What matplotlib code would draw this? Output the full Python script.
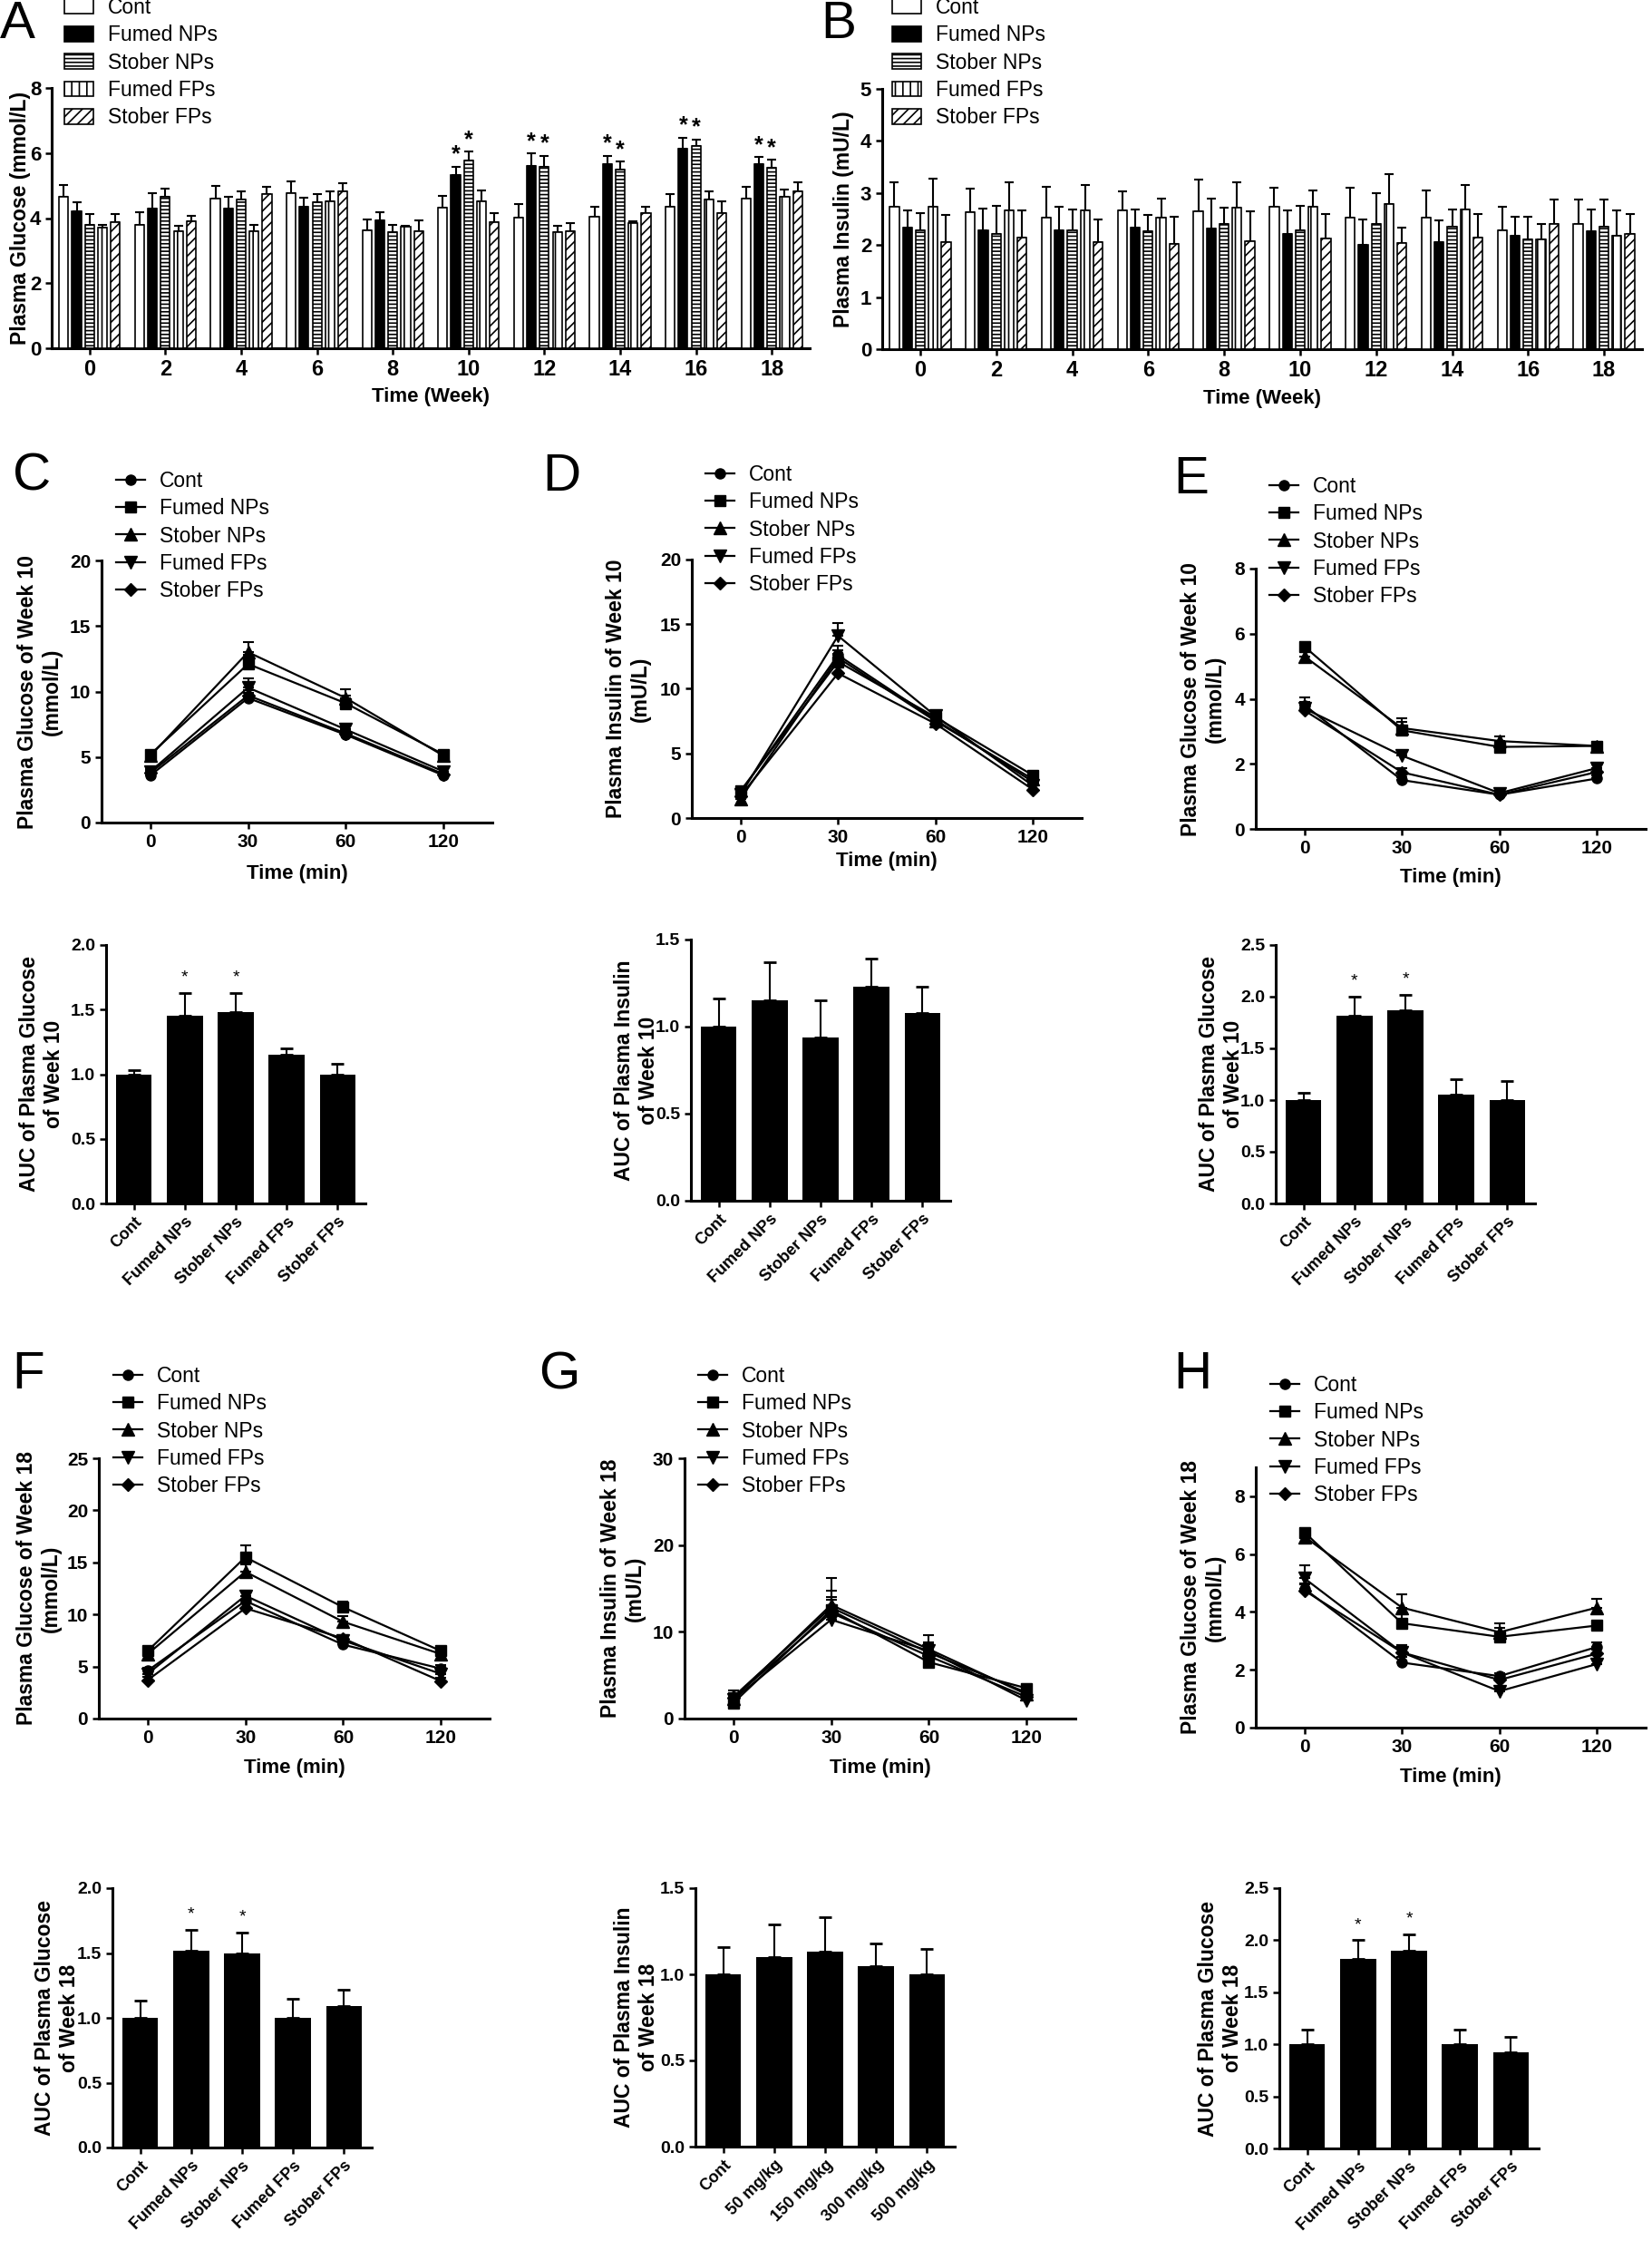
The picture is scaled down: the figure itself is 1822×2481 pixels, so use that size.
import numpy as np
import matplotlib.pyplot as plt

plt.rcParams['font.family'] = ['Liberation Sans', 'DejaVu Sans']
plt.rcParams['hatch.linewidth'] = 1.2
plt.rcParams['legend.numpoints'] = 1

W, H = 1822, 2481

groups = ['Cont', 'Fumed NPs', 'Stober NPs', 'Fumed FPs', 'Stober FPs']
weeks = [0, 2, 4, 6, 8, 10, 12, 14, 16, 18]
times = ['0', '30', '60', '120']
doses = ['Cont', '50 mg/kg', '150 mg/kg', '300 mg/kg', '500 mg/kg']

# A: plasma glucose by week (rows = groups)
a_mean = [[4.65, 3.78, 4.60, 4.77, 3.63, 4.33, 4.02, 4.03, 4.35, 4.60],
          [4.20, 4.30, 4.30, 4.35, 3.93, 5.33, 5.60, 5.65, 6.13, 5.65],
          [3.80, 4.66, 4.58, 4.50, 3.57, 5.77, 5.58, 5.50, 6.22, 5.55],
          [3.70, 3.60, 3.60, 4.52, 3.73, 4.52, 3.57, 3.85, 4.57, 4.65],
          [3.88, 3.90, 4.73, 4.83, 3.60, 3.88, 3.60, 4.15, 4.15, 4.83]]
a_sem = [[0.38, 0.40, 0.40, 0.37, 0.32, 0.35, 0.42, 0.32, 0.38, 0.36],
         [0.28, 0.48, 0.35, 0.27, 0.26, 0.25, 0.38, 0.27, 0.35, 0.22],
         [0.33, 0.25, 0.24, 0.23, 0.22, 0.27, 0.33, 0.23, 0.20, 0.24],
         [0.08, 0.15, 0.20, 0.30, 0.04, 0.34, 0.20, 0.04, 0.24, 0.23],
         [0.24, 0.18, 0.22, 0.24, 0.32, 0.28, 0.25, 0.20, 0.37, 0.28]]
a_stars = [(5, 1), (5, 2), (6, 1), (6, 2), (7, 1), (7, 2), (8, 1), (8, 2), (9, 1), (9, 2)]

# B: plasma insulin by week
b_mean = [[2.73, 2.63, 2.52, 2.66, 2.65, 2.74, 2.53, 2.53, 2.28, 2.40],
          [2.34, 2.28, 2.28, 2.33, 2.31, 2.22, 2.01, 2.05, 2.17, 2.26],
          [2.28, 2.22, 2.28, 2.26, 2.40, 2.28, 2.40, 2.35, 2.10, 2.35],
          [2.74, 2.66, 2.67, 2.52, 2.72, 2.73, 2.78, 2.69, 2.10, 2.17],
          [2.05, 2.15, 2.06, 2.02, 2.08, 2.13, 2.03, 2.15, 2.40, 2.21]]
b_sem = [[0.47, 0.46, 0.59, 0.38, 0.60, 0.36, 0.57, 0.52, 0.46, 0.48],
         [0.33, 0.42, 0.45, 0.36, 0.59, 0.45, 0.48, 0.42, 0.38, 0.43],
         [0.34, 0.54, 0.41, 0.31, 0.32, 0.48, 0.59, 0.34, 0.44, 0.53],
         [0.53, 0.54, 0.49, 0.38, 0.48, 0.32, 0.59, 0.46, 0.30, 0.49],
         [0.52, 0.51, 0.44, 0.52, 0.57, 0.46, 0.31, 0.45, 0.48, 0.39]]

# C-H: tolerance curves (rows = groups, cols = 0/30/60/120 min)
c_mean = [[3.6, 9.5, 6.7, 3.6], [5.2, 12.1, 9.1, 5.2], [5.1, 13.0, 9.5, 5.1],
          [3.9, 10.3, 7.1, 3.9], [3.8, 9.7, 6.8, 3.7]]
c_sem = [[0.2, 0.4, 0.3, 0.2], [0.3, 0.7, 0.6, 0.3], [0.3, 0.8, 0.7, 0.3],
         [0.2, 0.7, 0.3, 0.2], [0.2, 0.4, 0.3, 0.2]]
d_mean = [[2.0, 12.6, 7.6, 2.8], [2.1, 12.1, 7.8, 3.3], [1.5, 12.4, 7.5, 3.0],
          [1.8, 14.1, 7.9, 2.5], [1.7, 11.2, 7.3, 2.2]]
d_sem = [[0.3, 0.7, 0.4, 0.3], [0.3, 0.6, 0.4, 0.3], [0.3, 0.6, 0.4, 0.3],
         [0.3, 1.0, 0.4, 0.3], [0.3, 0.6, 0.4, 0.3]]
e_mean = [[3.8, 1.5, 1.05, 1.55], [5.6, 3.03, 2.52, 2.55], [5.3, 3.1, 2.7, 2.55],
          [3.7, 2.25, 1.1, 1.87], [3.64, 1.74, 1.05, 1.75]]
e_sem = [[0.25, 0.1, 0.08, 0.1], [0.15, 0.25, 0.15, 0.1], [0.15, 0.3, 0.15, 0.1],
         [0.2, 0.15, 0.08, 0.12], [0.2, 0.12, 0.08, 0.1]]
f_mean = [[4.6, 11.3, 7.1, 4.8], [6.5, 15.5, 10.7, 6.5], [6.2, 14.1, 9.3, 6.2],
          [4.3, 11.8, 7.5, 4.3], [3.7, 10.6, 7.7, 3.6]]
f_sem = [[0.3, 0.5, 0.3, 0.3], [0.4, 1.1, 0.5, 0.4], [0.4, 0.7, 0.5, 0.4],
         [0.3, 0.5, 0.3, 0.3], [0.3, 0.5, 0.3, 0.3]]
g_mean = [[2.5, 12.8, 7.6, 3.0], [1.8, 12.5, 6.5, 3.5], [2.3, 13.1, 8.0, 2.8],
          [2.2, 11.4, 7.8, 2.1], [2.4, 12.2, 7.2, 2.5]]
g_sem = [[0.7, 1.9, 1.0, 0.6], [0.5, 1.5, 1.0, 0.5], [0.6, 3.1, 1.6, 0.6],
         [0.5, 1.5, 1.0, 0.5], [0.5, 1.5, 1.0, 0.5]]
h_mean = [[4.8, 2.25, 1.78, 2.79], [6.75, 3.61, 3.14, 3.53], [6.6, 4.15, 3.3, 4.15],
          [5.16, 2.6, 1.26, 2.2], [4.74, 2.6, 1.65, 2.56]]
h_sem = [[0.2, 0.2, 0.1, 0.15], [0.15, 0.3, 0.3, 0.15], [0.2, 0.45, 0.3, 0.3],
         [0.45, 0.25, 0.1, 0.15], [0.2, 0.25, 0.1, 0.15]]

# AUC bars
auc_c = [1.00, 1.45, 1.48, 1.15, 1.00]
auc_c_sem = [0.03, 0.18, 0.15, 0.05, 0.08]
auc_d = [1.00, 1.15, 0.94, 1.23, 1.08]
auc_d_sem = [0.16, 0.22, 0.21, 0.16, 0.15]
auc_e = [1.00, 1.82, 1.87, 1.05, 1.00]
auc_e_sem = [0.07, 0.18, 0.15, 0.15, 0.18]
auc_f = [1.00, 1.52, 1.50, 1.00, 1.09]
auc_f_sem = [0.13, 0.16, 0.16, 0.15, 0.13]
auc_g = [1.00, 1.10, 1.13, 1.05, 1.00]
auc_g_sem = [0.16, 0.19, 0.20, 0.13, 0.15]
auc_h = [1.00, 1.82, 1.90, 1.00, 0.92]
auc_h_sem = [0.14, 0.18, 0.16, 0.14, 0.15]
auc_stars = [1, 2]

fig = plt.figure(figsize=(W / 100, H / 100), dpi=100)


def px_axes(box):
    l, t, r, b = box
    return fig.add_axes([l / W, 1 - b / H, (r - l) / W, (b - t) / H])


def style(ax):
    for s in ('top', 'right'):
        ax.spines[s].set_visible(False)
    for s in ('left', 'bottom'):
        ax.spines[s].set_linewidth(2.2)
    ax.tick_params(direction='out', length=5, width=1.8)


def labels(ax, box, xlabel, ylabel, xl_y, yl_x, ysize=16.5):
    l, t, r, b = box
    if xlabel:
        ax.set_xlabel(xlabel, fontsize=16, fontweight='bold', va='center')
        ax.xaxis.set_label_coords(0.5, (b - xl_y) / (b - t))
    ax.set_ylabel(ylabel, fontsize=ysize, fontweight='bold', va='center', ha='center')
    ax.yaxis.set_label_coords((yl_x - l) / (r - l), 0.5)


def legend_at(ax, handles, x, y):
    ax.legend(handles, groups, loc='upper left', bbox_to_anchor=(x / W, 1 - y / H),
              bbox_transform=fig.transFigure, frameon=False, fontsize=16.5,
              borderpad=0, borderaxespad=0, handlelength=1.4, handleheight=0.75,
              handletextpad=0.7, labelspacing=0.32)


def letter(s, x, y):
    fig.text(x / W, 1 - y / H, s, fontsize=42, va='top', ha='left')


bar_styles = [dict(facecolor='white'), dict(facecolor='black'),
              dict(facecolor='white', hatch='----'), dict(facecolor='white', hatch='||'),
              dict(facecolor='white', hatch='///')]


def week_bars(box, means, sems, ymax, yticks, ylabel, stars, leg_xy, yl_x, xl_y):
    ax = px_axes(box)
    style(ax)
    x = np.arange(len(weeks))
    handles = []
    for i, (m, s) in enumerate(zip(means, sems)):
        xi = x + (i - 2) * 0.17
        bc = ax.bar(xi, m, 0.122, edgecolor='black', linewidth=1.2, zorder=3, **bar_styles[i])
        ax.errorbar(xi, m, yerr=[np.zeros(len(m)), s], fmt='none', ecolor='black',
                    elinewidth=1.5, capsize=3.5, capthick=1.5, zorder=2)
        handles.append(bc)
    for w, g in stars:
        top = means[g][w] + sems[g][w]
        ax.annotate('*', (x[w] + (g - 2) * 0.17, top), xytext=(0, 1), textcoords='offset points',
                    ha='center', va='bottom', fontsize=18, fontweight='bold')
    ax.set_xlim(-0.5, 9.5)
    ax.set_ylim(0, ymax)
    ax.set_xticks(x, [str(w) for w in weeks], fontsize=17, fontweight='bold')
    ax.set_yticks(yticks, [str(v) for v in yticks], fontsize=16, fontweight='bold')
    labels(ax, box, 'Time (Week)', ylabel, xl_y, yl_x)
    legend_at(ax, handles, *leg_xy)


markers = ['o', 's', '^', 'v', 'D']
msizes = [8, 9, 9.5, 9.5, 7]


def curve(box, means, sems, ymax, yticks, ylabel, leg_xy, yl_x, xl_y):
    ax = px_axes(box)
    style(ax)
    x = np.arange(len(times))
    handles = []
    for i, (m, s) in enumerate(zip(means, sems)):
        ax.errorbar(x, m, yerr=[np.zeros(len(m)), s], fmt='none', ecolor='black',
                    elinewidth=1.5, capsize=4.5, capthick=1.5, zorder=2)
        ln, = ax.plot(x, m, color='black', lw=1.6, marker=markers[i], ms=msizes[i],
                      mfc='black', mec='black', zorder=3, clip_on=False)
        handles.append(ln)
    ax.set_xlim(-0.5, 3.5)
    ax.set_ylim(0, ymax)
    ax.set_xticks(x, times, fontsize=15, fontweight='bold')
    ax.set_yticks(yticks, [str(v) for v in yticks], fontsize=15, fontweight='bold')
    labels(ax, box, 'Time (min)', ylabel, xl_y, yl_x)
    legend_at(ax, handles, *leg_xy)


def auc(box, vals, sems, ymax, ylabel, cats, yl_x, stars):
    ax = px_axes(box)
    style(ax)
    x = np.arange(len(vals))
    ax.bar(x, vals, 0.7, color='black', zorder=3)
    ax.errorbar(x, vals, yerr=[np.zeros(len(vals)), sems], fmt='none', ecolor='black',
                elinewidth=1.5, capsize=5, capthick=2, zorder=2)
    for g in stars:
        ax.annotate('*', (x[g], vals[g] + sems[g]), xytext=(0, 6), textcoords='offset points',
                    ha='center', va='bottom', fontsize=14)
    ax.set_xlim(-0.55, 4.55)
    ax.set_ylim(0, ymax)
    yt = np.arange(0, ymax + 0.01, 0.5)
    ax.set_yticks(yt, ['%.1f' % v for v in yt], fontsize=14, fontweight='bold')
    ax.set_xticks(x, cats, fontsize=13, fontweight='bold', rotation=45,
                  ha='right', rotation_mode='anchor')
    labels(ax, box, None, ylabel, 0, yl_x)


week_bars((57, 97, 893, 384), a_mean, a_sem, 8, [0, 2, 4, 6, 8],
          'Plasma Glucose (mmol/L)', a_stars, (71, -3), 23, 437)
week_bars((973, 98, 1811, 385), b_mean, b_sem, 5, [0, 1, 2, 3, 4, 5],
          'Plasma Insulin (mU/L)', [], (984, -3), 931, 440)

curve((112, 618, 543, 907), c_mean, c_sem, 20, [0, 5, 10, 15, 20],
      'Plasma Glucose of Week 10\n(mmol/L)', (128, 519), 44, 963)
curve((763, 617, 1193, 902), d_mean, d_sem, 20, [0, 5, 10, 15, 20],
      'Plasma Insulin of Week 10\n(mU/L)', (778, 512), 693, 950)
curve((1385, 627, 1815, 914), e_mean, e_sem, 8, [0, 2, 4, 6, 8],
      'Plasma Glucose of Week 10\n(mmol/L)', (1400, 525), 1327, 967)
curve((109, 1608, 540, 1895), f_mean, f_sem, 25, [0, 5, 10, 15, 20, 25],
      'Plasma Glucose of Week 18\n(mmol/L)', (125, 1506), 43, 1950)
curve((755, 1608, 1186, 1895), g_mean, g_sem, 30, [0, 10, 20, 30],
      'Plasma Insulin of Week 18\n(mU/L)', (770, 1506), 687, 1950)
curve((1385, 1618, 1815, 1905), h_mean, h_sem, 9, [0, 2, 4, 6, 8],
      'Plasma Glucose of Week 18\n(mmol/L)', (1401, 1516), 1327, 1960)

auc((117, 1042, 403, 1327), auc_c, auc_c_sem, 2.0,
    'AUC of Plasma Glucose\nof Week 10', groups, 46, auc_stars)
auc((762, 1036, 1048, 1324), auc_d, auc_d_sem, 1.5,
    'AUC of Plasma Insulin\nof Week 10', groups, 702, [])
auc((1407, 1042, 1693, 1327), auc_e, auc_e_sem, 2.5,
    'AUC of Plasma Glucose\nof Week 10', groups, 1347, auc_stars)
auc((124, 2082, 410, 2368), auc_f, auc_f_sem, 2.0,
    'AUC of Plasma Glucose\nof Week 18', groups, 63, auc_stars)
auc((767, 2082, 1053, 2367), auc_g, auc_g_sem, 1.5,
    'AUC of Plasma Insulin\nof Week 18', doses, 702, [])
auc((1411, 2082, 1697, 2369), auc_h, auc_h_sem, 2.5,
    'AUC of Plasma Glucose\nof Week 18', groups, 1346, auc_stars)

for s, x, y in [('A', 0, 0), ('B', 905, 0), ('C', 14, 499), ('D', 598, 499),
                ('E', 1294, 502), ('F', 13, 1489), ('G', 594, 1489), ('H', 1294, 1489)]:
    letter(s, x, y)

fig.savefig('out.png', dpi=100)
